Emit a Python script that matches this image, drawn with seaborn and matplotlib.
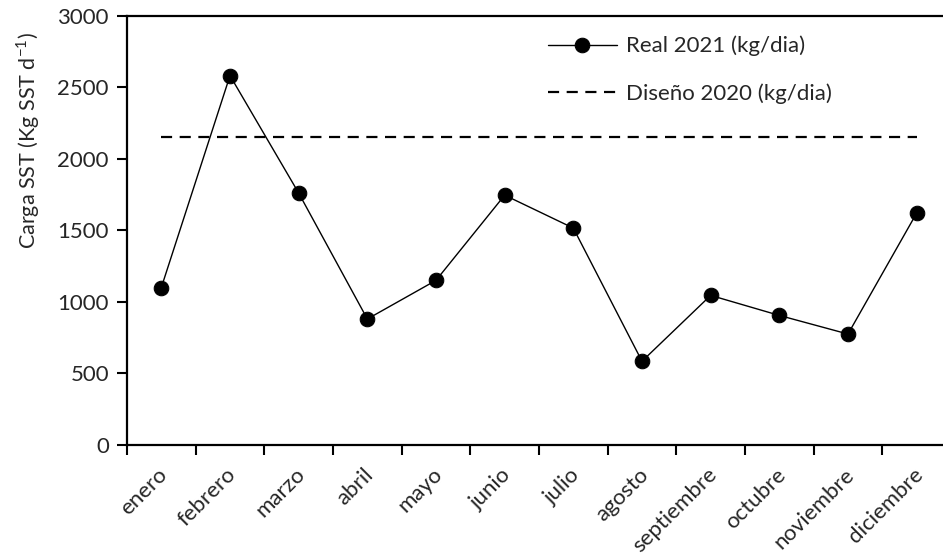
import numpy as np
import pandas as pd
import matplotlib
matplotlib.use("Agg")
import matplotlib.pyplot as plt
import matplotlib.transforms as mtransforms
import seaborn as sns

meses = ["enero", "febrero", "marzo", "abril", "mayo", "junio", "julio",
         "agosto", "septiembre", "octubre", "noviembre", "diciembre"]
real_2021 = [1100, 2580, 1760, 880, 1150, 1745, 1515, 585, 1045, 905, 775, 1620]
diseno_2020 = [2150] * 12
y_ticks = [0, 500, 1000, 1500, 2000, 2500, 3000]

sns.set_theme(style="white")
plt.rcParams["font.family"] = ["Lato", "DejaVu Sans"]
plt.rcParams["mathtext.fontset"] = "custom"
plt.rcParams["mathtext.rm"] = "Lato"

pos = np.arange(len(meses)) + 0.5
df = pd.DataFrame({"pos": pos, "real": real_2021, "diseno": diseno_2020})

fig = plt.figure(figsize=(9.43, 5.56), dpi=100)
ax = fig.add_axes([127 / 943, 111 / 556, (951 - 127) / 943, (445 - 15.5) / 556])

sns.lineplot(data=df, x="pos", y="real", ax=ax, color="black", linewidth=1.0,
             marker="o", markersize=10.5, markeredgecolor="black",
             markerfacecolor="black", label="Real 2021 (kg/dia)")
sns.lineplot(data=df, x="pos", y="diseno", ax=ax, color="black", linewidth=1.6,
             label="Diseño 2020 (kg/dia)")
ax.lines[1].set_dashes((5, 3.4))

ax.set_xlim(0, 12)
ax.set_ylim(0, 3000)
ax.set_yticks(y_ticks)
ax.set_yticklabels([str(v) for v in y_ticks], fontsize=16)

ax.set_xticks(np.arange(0, 13))
ax.set_xticklabels([])
ax.set_xticks(pos, minor=True)
ax.set_xticklabels(meses, minor=True, rotation=45, ha="right",
                   rotation_mode="anchor", fontsize=16)
ax.tick_params(axis="x", which="major", direction="out", length=7, width=1.5,
               bottom=True, color="black")
ax.tick_params(axis="x", which="minor", length=0, pad=14)
ax.tick_params(axis="y", which="major", direction="out", length=7, width=1.5,
               left=True, color="black", pad=6)

# nudge the rotated month labels slightly left
shift = mtransforms.ScaledTranslation(-4 / 100, 0, fig.dpi_scale_trans)
for lbl in ax.get_xticklabels(minor=True):
    lbl.set_transform(lbl.get_transform() + shift)

ax.set_xlabel("")
ax.set_ylabel(r"Carga SST (Kg SST d$^{\mathregular{-1}}$)", fontsize=15.5)
ax.yaxis.label.set_verticalalignment("center")
ax.yaxis.set_label_coords(-0.12, 0.71)

for side in ["left", "bottom", "top"]:
    ax.spines[side].set_visible(True)
    ax.spines[side].set_color("black")
    ax.spines[side].set_linewidth(1.6)
ax.spines["right"].set_visible(False)

leg = ax.legend(loc="upper left", bbox_to_anchor=(539 / 943, 529 / 556),
                bbox_transform=fig.transFigure, frameon=False, fontsize=16,
                borderaxespad=0, handlelength=3.1, handletextpad=0.4,
                labelspacing=1.22)

fig.savefig("out.png", dpi=100)
